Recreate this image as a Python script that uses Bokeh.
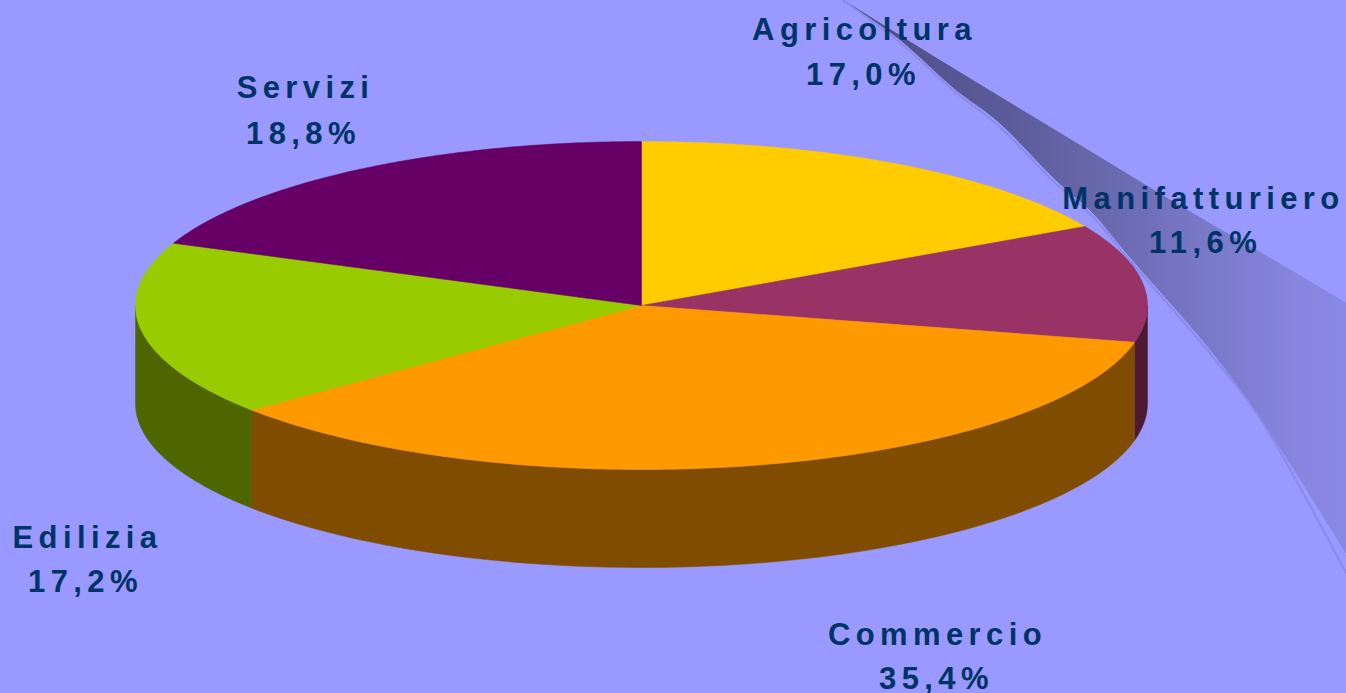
import math
from bokeh.plotting import figure
from bokeh.models import Range1d, ColumnDataSource
from bokeh.core.properties import value
from bokeh.embed import file_html
from bokeh.resources import INLINE

categories = ["Agricoltura", "Manifatturiero", "Commercio", "Edilizia", "Servizi"]
shares = [17.0, 11.6, 35.4, 17.2, 18.8]
top_colors = ["#ffcc00", "#993366", "#ff9900", "#99cc00", "#660066"]
side_colors = ["#806600", "#4d1a33", "#804d00", "#4d6600", "#330033"]
label_name_pos = [(864, 29), (1203, 198), (937, 634), (87, 537), (305, 87)]
label_pct_pos = [(863, 74), (1205, 242), (936, 678), (85, 581), (303, 133)]

BG = "#9999ff"
INK = "#003366"
CX, CY, RX, RY, DEPTH = 641, 305, 506, 164, 98
SPACING = 5.4

W, H = 1346, 693
p = figure(width=W, height=H, x_range=Range1d(0, W), y_range=Range1d(H, 0),
           output_backend="svg", toolbar_location=None, min_border=0,
           background_fill_color=BG, border_fill_color=BG, outline_line_color=None)
p.axis.visible = False
p.grid.visible = False
p.styles = {"position": "fixed", "left": "0", "top": "0", "background-color": BG,
            "letter-spacing": f"{SPACING}px"}


def ex(t):
    return CX + RX * math.sin(math.radians(t))


def ey(t):
    return CY - RY * math.cos(math.radians(t))


# decorative swoosh behind the pie
up = [(843, 0), (920, 48), (997, 95), (1073, 141), (1187, 210), (1270, 258), (1346, 303)]
lo = [(843, 0), (897, 37), (953, 87), (1000, 123), (1053, 177), (1093, 213), (1130, 257),
      (1213, 353), (1273, 437), (1346, 553)]
arc = [(843, 0), (897, 40), (953, 90), (1000, 127), (1053, 181), (1093, 217), (1130, 261),
       (1207, 350), (1267, 430), (1346, 573)]
stops = [(843, (0x4d, 0x4d, 0x80)), (1000, (0x5a, 0x5a, 0x9a)), (1100, (0x68, 0x68, 0xac)),
         (1200, (0x78, 0x78, 0xc8)), (1300, (0x88, 0x86, 0xe0)), (1346, (0x8a, 0x88, 0xe6))]


def smooth(pts, steps=16):
    """Catmull-Rom through the guide points of the decoration."""
    q = [pts[0]] + list(pts) + [pts[-1]]
    out = []
    for i in range(1, len(q) - 2):
        p0, p1, p2, p3 = q[i - 1], q[i], q[i + 1], q[i + 2]
        for k in range(steps):
            t = k / steps
            out.append(tuple(
                0.5 * (2 * p1[d] + (p2[d] - p0[d]) * t
                       + (2 * p0[d] - 5 * p1[d] + 4 * p2[d] - p3[d]) * t * t
                       + (3 * p1[d] - p0[d] - 3 * p2[d] + p3[d]) * t ** 3)
                for d in (0, 1)))
    out.append(pts[-1])
    return out


up_s, lo_s, arc_s = smooth(up), smooth(lo), smooth(arc)


def lerp(pts, x):
    for (x0, y0), (x1, y1) in zip(pts, pts[1:]):
        if x0 <= x <= x1 and x1 > x0:
            return y0 + (y1 - y0) * (x - x0) / (x1 - x0)
    return pts[-1][1]


def col(x):
    for (x0, c0), (x1, c1) in zip(stops, stops[1:]):
        if x0 <= x <= x1:
            f = (x - x0) / (x1 - x0)
            return "#%02x%02x%02x" % tuple(round(a + (b - a) * f) for a, b in zip(c0, c1))
    return "#8a88e6"


xs_s, ys_s, cs_s = [], [], []
for x in range(843, 1346, 2):
    x2 = min(x + 2, 1346)
    xs_s.append([x, x2, x2, x])
    ys_s.append([lerp(up_s, x), lerp(up_s, x2), lerp(lo_s, x2), lerp(lo_s, x)])
    cs_s.append(col(x))
p.patches(xs_s, ys_s, fill_color=cs_s, line_color=cs_s, line_width=1)
p.line([a for a, _ in arc_s], [b for _, b in arc_s], line_color="#8a8aec", line_width=2)

# slice angles from the shares, clockwise from the top
total = sum(shares)
edges = [0.0]
for v in shares:
    edges.append(edges[-1] + 360.0 * v / total)

# side wall: only the part facing the viewer (90..270 degrees)
for i in range(len(shares)):
    a, b = max(edges[i], 90), min(edges[i + 1], 270)
    if a >= b:
        continue
    n = 90
    ts = [a + (b - a) * k / n for k in range(n + 1)]
    xs = [ex(t) for t in ts] + [ex(t) for t in reversed(ts)]
    ys = [ey(t) for t in ts] + [ey(t) + DEPTH for t in reversed(ts)]
    p.patch(xs, ys, fill_color=side_colors[i], line_color=side_colors[i], line_width=0.5)

# top face
for i in range(len(shares)):
    a, b = edges[i], edges[i + 1]
    n = 120
    ts = [a + (b - a) * k / n for k in range(n + 1)]
    p.patch([CX] + [ex(t) for t in ts], [CY] + [ey(t) for t in ts],
            fill_color=top_colors[i], line_color=top_colors[i], line_width=0.5)

# labels (letter spacing pushes centred text right by half its added width)
pct_texts = [f"{v:.1f}%".replace(".", ",") for v in shares]


def shifted(pos, texts):
    return [q[0] - SPACING * len(t) / 2 for q, t in zip(pos, texts)]


names = ColumnDataSource(dict(x=shifted(label_name_pos, categories),
                              y=[q[1] for q in label_name_pos], t=categories))
pcts = ColumnDataSource(dict(x=shifted(label_pct_pos, pct_texts),
                             y=[q[1] for q in label_pct_pos], t=pct_texts))
for src in (names, pcts):
    p.text("x", "y", text="t", source=src, text_font=value("Liberation Sans"),
           text_font_style="bold", text_font_size="31px", text_color=INK,
           text_align="center", text_baseline="alphabetic")

open("out.html", "w").write(file_html(p, INLINE))
